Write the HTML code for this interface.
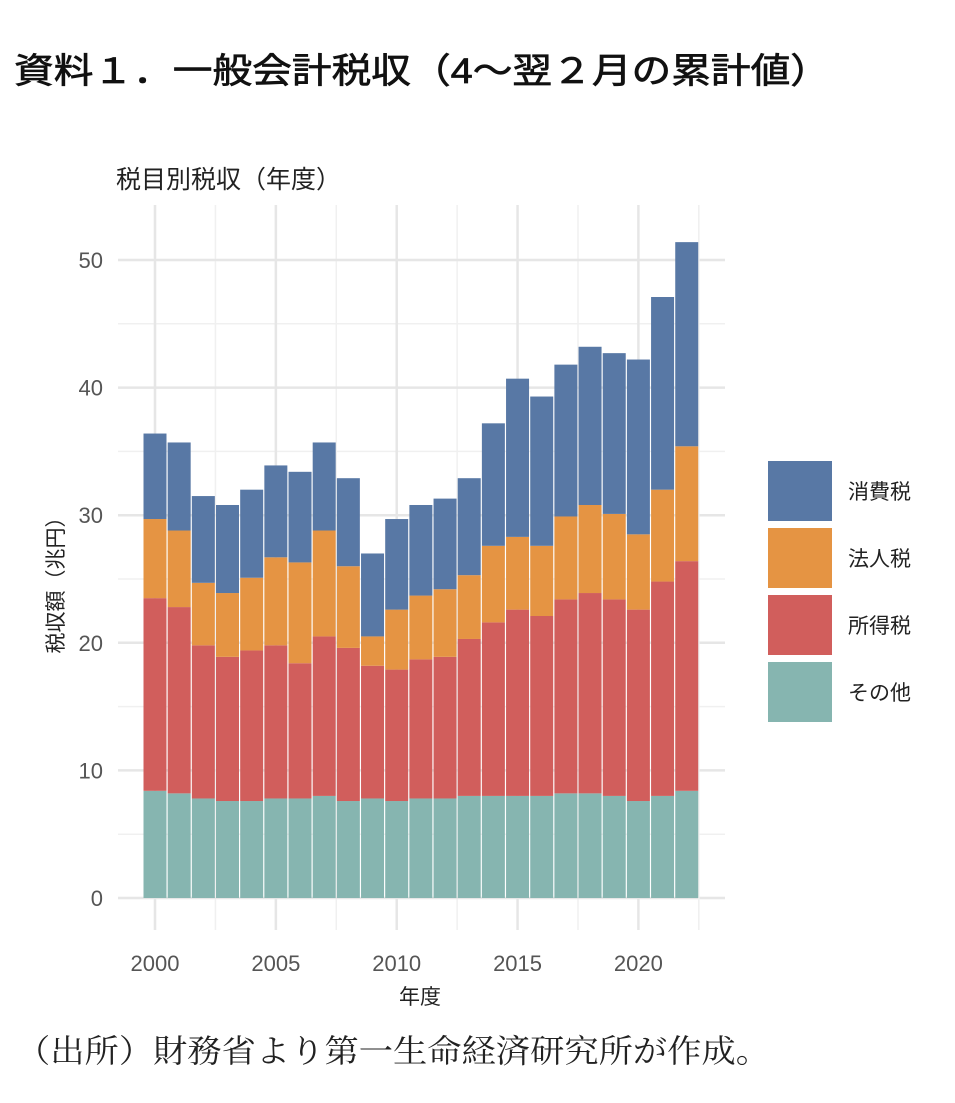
<!DOCTYPE html>
<html><head><meta charset="utf-8">
<style>
body{margin:0;background:#fff;width:955px;height:1098px;overflow:hidden;font-family:"Liberation Sans","Noto Sans CJK JP",sans-serif;}
</style></head>
<body>
<svg id="chart" width="955" height="1098" xmlns="http://www.w3.org/2000/svg">
<text x="14" y="83" font-size="35" fill="#111" stroke="#111" stroke-width="0.7" textLength="816" lengthAdjust="spacingAndGlyphs" font-family="Liberation Sans, Noto Sans CJK JP, sans-serif">資料１．一般会計税収（4～翌２月の累計値）</text>
<text x="116" y="188" font-size="25" fill="#222" font-family="Liberation Sans, Noto Sans CJK JP, sans-serif">税目別税収（年度）</text>
<g id="grid"></g>
<g id="bars"></g>
<g id="axes"></g>
<text x="420" y="1004" font-size="21" text-anchor="middle" fill="#222" font-family="Liberation Sans, Noto Sans CJK JP, sans-serif">年度</text>
<text transform="translate(63,580) rotate(-90)" font-size="21" text-anchor="middle" fill="#222" font-family="Liberation Sans, Noto Sans CJK JP, sans-serif">税収額（兆円）</text>
<g id="legend"></g>
<text x="16" y="1062" font-size="32" fill="#222" textLength="754" lengthAdjust="spacingAndGlyphs" font-family="Liberation Serif, Noto Serif CJK SC, serif">（出所）財務省より第一生命経済研究所が作成。</text>
</svg>
<script>
const years=[2000,2001,2002,2003,2004,2005,2006,2007,2008,2009,2010,2011,2012,2013,2014,2015,2016,2017,2018,2019,2020,2021,2022];
const other=[8.4,8.2,7.8,7.6,7.6,7.8,7.8,8.0,7.6,7.8,7.6,7.8,7.8,8.0,8.0,8.0,8.0,8.2,8.2,8.0,7.6,8.0,8.4];
const income=[15.1,14.6,12.0,11.3,11.8,12.0,10.6,12.5,12.0,10.4,10.3,10.9,11.1,12.3,13.6,14.6,14.1,15.2,15.7,15.4,15.0,16.8,18.0];
const corporate=[6.2,6.0,4.9,5.0,5.7,6.9,7.9,8.3,6.4,2.3,4.7,5.0,5.3,5.0,6.0,5.7,5.5,6.5,6.9,6.7,5.9,7.2,9.0];
const consumption=[6.7,6.9,6.8,6.9,6.9,7.2,7.1,6.9,6.9,6.5,7.1,7.1,7.1,7.6,9.6,12.4,11.7,11.9,12.4,12.6,13.7,15.1,16.0];
const yTicks=[0,10,20,30,40,50];
const xTicks=[2000,2005,2010,2015,2020];
const seriesNames=["消費税","法人税","所得税","その他"];

const NS="http://www.w3.org/2000/svg";
const colors={"消費税":"#5878a5","法人税":"#e59443","所得税":"#d15e5c","その他":"#86b5b0"};
const x=v=>155+(v-2000)*24.17;
const y=v=>898-v*12.76;
const bw=23;
const panel={l:118,r:725,t:205,b:930};
function mk(tag,attrs,parent){const e=document.createElementNS(NS,tag);for(const k in attrs)e.setAttribute(k,attrs[k]);parent.appendChild(e);return e;}
const grid=document.getElementById('grid'),bars=document.getElementById('bars'),axes=document.getElementById('axes'),legend=document.getElementById('legend');
for(let v=5;v<=50;v+=10){const l=mk('line',{x1:panel.l,x2:panel.r,y1:y(v),y2:y(v),stroke:'#f0f0f0','stroke-width':1.5},grid);

}
for(let v=1997.5;v<=2022.5;v+=5){if(x(v)<panel.l||x(v)>panel.r)continue;const l=mk('line',{x1:x(v),x2:x(v),y1:panel.t,y2:panel.b,stroke:'#f0f0f0','stroke-width':1.5},grid);

}
yTicks.forEach(v=>{const l=mk('line',{x1:panel.l,x2:panel.r,y1:y(v),y2:y(v),stroke:'#e6e6e6','stroke-width':2.5},grid);


const t=mk('text',{x:103,y:y(v)+8,'text-anchor':'end','font-size':22,fill:'#555'},axes);t.textContent=v;

});
xTicks.forEach(v=>{const l=mk('line',{x1:x(v),x2:x(v),y1:panel.t,y2:panel.b,stroke:'#e6e6e6','stroke-width':2.5},grid);


const t=mk('text',{x:x(v),y:971,'text-anchor':'middle','font-size':22,fill:'#555'},axes);t.textContent=v;

});
{const v=2022.5;const l=mk('line',{x1:x(v),x2:x(v),y1:panel.t,y2:panel.b,stroke:'#f0f0f0','stroke-width':1.5},grid);

}
const stack=[["その他",other],["所得税",income],["法人税",corporate],["消費税",consumption]];
years.forEach((yr,i)=>{let base=0;stack.forEach(([name,arr])=>{const v=arr[i];const r=mk('rect',{x:x(yr)-bw/2,y:y(base+v),width:bw,height:y(base)-y(base+v),fill:colors[name]},bars);


base+=v;});});
seriesNames.forEach((n,i)=>{const top=461+i*67;const r=mk('rect',{x:768,y:top,width:64,height:60,fill:colors[n]},legend);


const t=mk('text',{x:848,y:top+38,'font-size':21,fill:'#222'},legend);t.textContent=n;

});
</script>
</body></html>
